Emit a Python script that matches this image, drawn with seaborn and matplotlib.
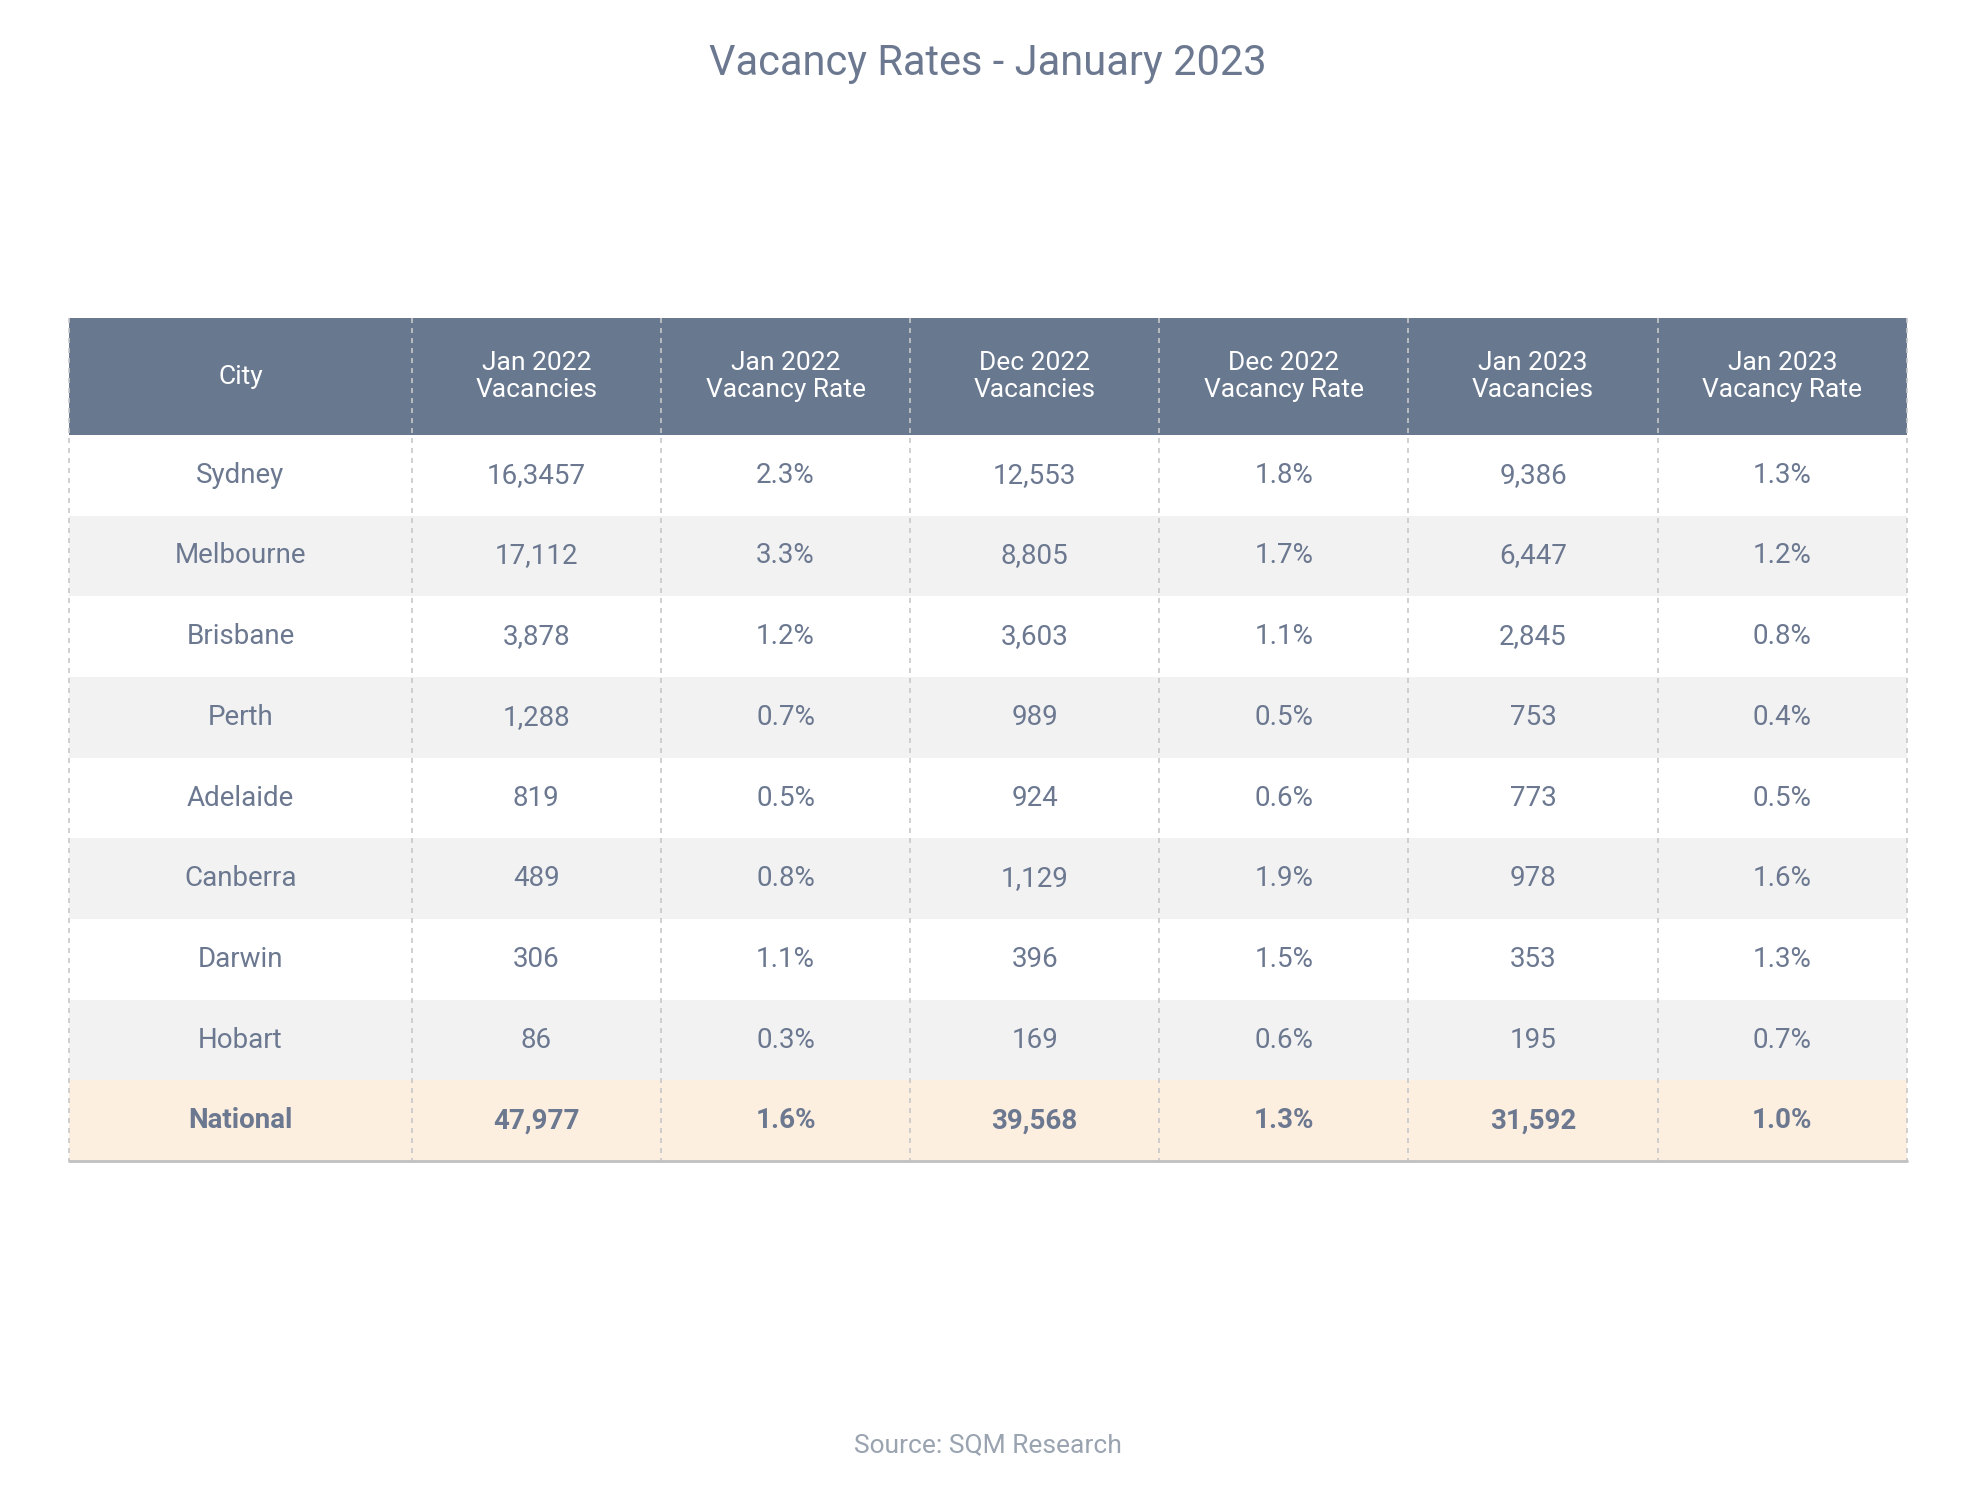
import numpy as np
import matplotlib
matplotlib.use("Agg")
import matplotlib.pyplot as plt
from matplotlib.colors import ListedColormap
import seaborn as sns

# Table data
headers = ["City", "Jan 2022\nVacancies", "Jan 2022\nVacancy Rate", "Dec 2022\nVacancies",
           "Dec 2022\nVacancy Rate", "Jan 2023\nVacancies", "Jan 2023\nVacancy Rate"]
cities = ["Sydney", "Melbourne", "Brisbane", "Perth", "Adelaide", "Canberra", "Darwin", "Hobart", "National"]
jan22_vac = ["16,3457", "17,112", "3,878", "1,288", "819", "489", "306", "86", "47,977"]
jan22_rate = ["2.3%", "3.3%", "1.2%", "0.7%", "0.5%", "0.8%", "1.1%", "0.3%", "1.6%"]
dec22_vac = ["12,553", "8,805", "3,603", "989", "924", "1,129", "396", "169", "39,568"]
dec22_rate = ["1.8%", "1.7%", "1.1%", "0.5%", "0.6%", "1.9%", "1.5%", "0.6%", "1.3%"]
jan23_vac = ["9,386", "6,447", "2,845", "753", "773", "978", "353", "195", "31,592"]
jan23_rate = ["1.3%", "1.2%", "0.8%", "0.4%", "0.5%", "1.6%", "1.3%", "0.7%", "1.0%"]

columns = [cities, jan22_vac, jan22_rate, dec22_vac, dec22_rate, jan23_vac, jan23_rate]

sns.set_theme(style="white")
plt.rcParams["font.family"] = ["Roboto", "DejaVu Sans"]

TXT = "#6b7890"
HEAD = "#68788f"
col_units = [11] + [8] * 6
head_units, row_units = 13, 9

# row kinds: 0 header, 1 white, 2 grey, 3 national
kinds = [0] + [1 if i % 2 == 0 else 2 for i in range(8)] + [3]
row_sizes = [head_units] + [row_units] * 9
grid = np.repeat(np.array(kinds), row_sizes)[:, None] * np.ones((1, sum(col_units)))
cmap = ListedColormap([HEAD, "#ffffff", "#f2f2f2", "#fdefe0"])

fig = plt.figure(figsize=(19.76, 15.02), dpi=100)
ax = fig.add_axes([0.035, 1 - 0.773, 0.93, 0.773 - 0.212])
sns.heatmap(grid, cmap=cmap, vmin=-0.5, vmax=3.5, cbar=False, ax=ax,
            xticklabels=False, yticklabels=False)

xedges = np.concatenate([[0], np.cumsum(col_units)])
yedges = np.concatenate([[0], np.cumsum(row_sizes)])
xc = (xedges[:-1] + xedges[1:]) / 2
yc = (yedges[:-1] + yedges[1:]) / 2

for j, h in enumerate(headers):
    ax.text(xc[j], yc[0], h, ha="center", va="center", color="white",
            fontsize=19, linespacing=1.15)
for j, col in enumerate(columns):
    for i, v in enumerate(col):
        bold = i == len(col) - 1
        ax.text(xc[j], yc[i + 1], v, ha="center", va="center", color=TXT,
                fontsize=20, fontweight="bold" if bold else "normal")

for x in xedges:
    ax.plot([x, x], [yedges[0], yedges[-1]], color="#c8c8c8", lw=1.2,
            ls=(0, (3, 3)), clip_on=False)
ax.plot([0, xedges[-1]], [yedges[-1], yedges[-1]], color="#c0c0c0", lw=2, clip_on=False)
for s in ax.spines.values():
    s.set_visible(False)

fig.text(0.5, 0.958, "Vacancy Rates - January 2023", ha="center", va="center",
         color=TXT, fontsize=30)
fig.text(0.5, 0.038, "Source: SQM Research", ha="center", va="center",
         color="#9aa3b0", fontsize=19)

fig.savefig("out.png", dpi=100, facecolor="white")
